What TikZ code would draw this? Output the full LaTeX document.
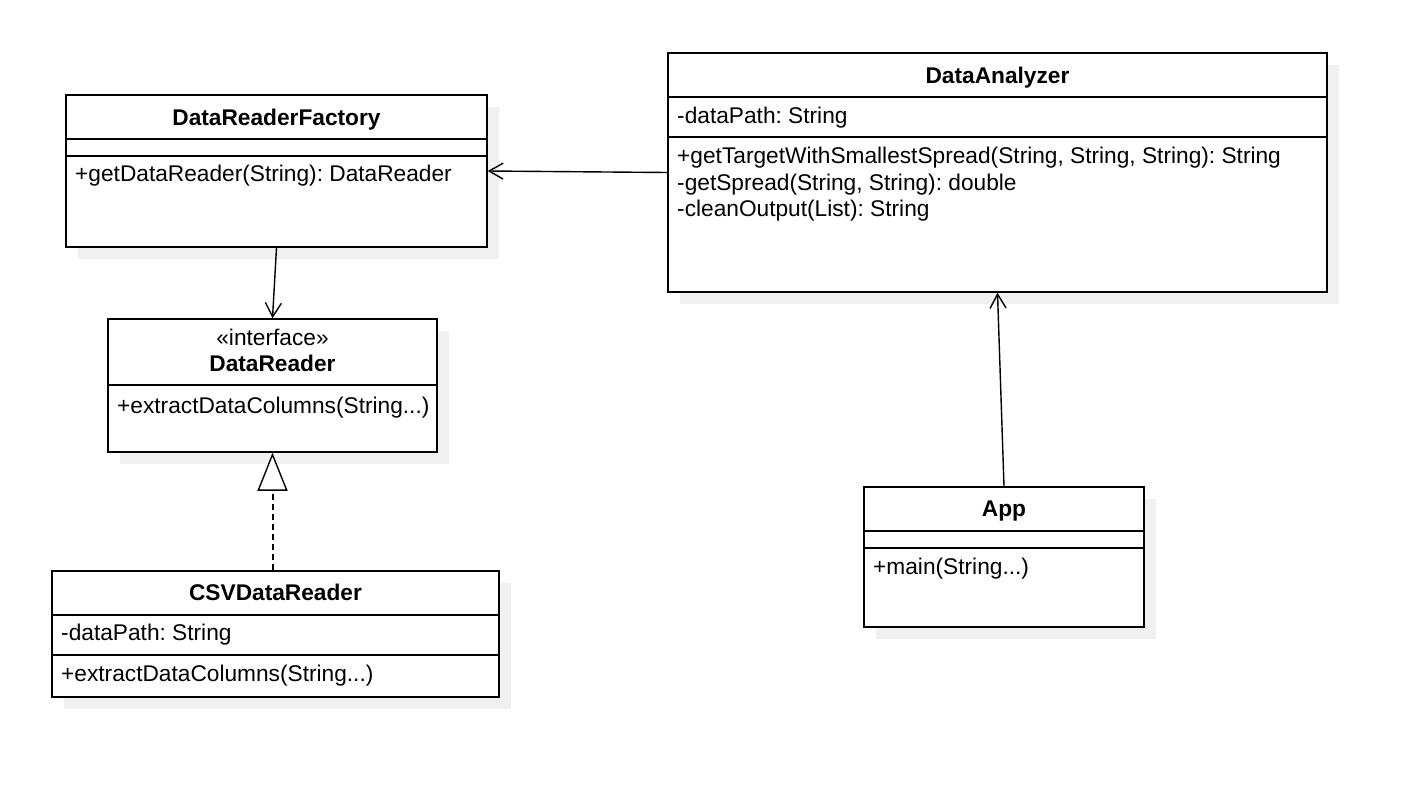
\documentclass[tikz,border=0pt]{standalone}
\usepackage{fontspec}
\setmainfont{Liberation Sans}
\usetikzlibrary{arrows.meta,shadows}
\frenchspacing
\newcommand\umlfont{\fontsize{22.7}{27}\selectfont}
\tikzset{
  classbox/.style={draw,fill=white,line width=1.5pt,inner sep=0pt,
    drop shadow={shadow xshift=12pt,shadow yshift=-12pt,fill=black!6,opacity=1}},
  divider/.style={line width=1.5pt},
  classname/.style={font=\umlfont\bfseries,anchor=base,inner sep=0pt},
  member/.style={anchor=base west,inner sep=0pt},
  assoc/.style={line width=1.4pt,-{Straight Barb[length=14pt,width=16pt,line width=1.4pt]}},
  realize/.style={line width=2pt,dash pattern=on 6pt off 4pt,
    -{Triangle[open,length=38pt,width=30pt,line width=1.4pt,fill=white]}}
}
\begin{document}
\begin{tikzpicture}[x=1pt,y=-1pt,line cap=butt,font=\umlfont]
\useasboundingbox[fill=white] (0,0) rectangle (1408,811);
% DataReaderFactory
\node[classbox,minimum width=421pt,minimum height=152pt] (factory) at (276.5,171) {};
\draw[divider] (66,139)--(487,139);
\draw[divider] (66,156)--(487,156);
\node[classname] (factoryname) at (276.5,125) {DataReaderFactory};
\node[member] (factorym1) at (75,181) {+getDataReader(String): DataReader};
% DataAnalyzer
\node[classbox,minimum width=659pt,minimum height=239pt] (analyzer) at (997.5,172.5) {};
\draw[divider] (668,97)--(1327,97);
\draw[divider] (668,137)--(1327,137);
\node[classname] (analyzername) at (997.5,83) {DataAnalyzer};
\node[member] (analyzera1) at (677,123) {-dataPath: String};
\node[member] (analyzerm1) at (677,163) {+getTargetWithSmallestSpread(String, String, String): String};
\node[member] (analyzerm2) at (677,190) {-getSpread(String, String): double};
\node[member] (analyzerm3) at (677,216) {-cleanOutput(List): String};
% DataReader
\node[classbox,minimum width=329pt,minimum height=133pt] (reader) at (272.5,385.5) {};
\draw[divider] (108,385)--(437,385);
\node[anchor=base,inner sep=0pt] (readerstereo) at (272.5,345) {«interface»};
\node[classname] (readername) at (272.5,371) {DataReader};
\node[member] (readerm1) at (117,413) {+extractDataColumns(String...)};
% CSVDataReader
\node[classbox,minimum width=447pt,minimum height=126pt] (csv) at (275.5,634) {};
\draw[divider] (52,615)--(499,615);
\draw[divider] (52,655)--(499,655);
\node[classname] (csvname) at (275.5,600) {CSVDataReader};
\node[member] (csva1) at (61,640) {-dataPath: String};
\node[member] (csvm1) at (61,681) {+extractDataColumns(String...)};
% App
\node[classbox,minimum width=280pt,minimum height=140pt] (app) at (1004,557) {};
\draw[divider] (864,531)--(1144,531);
\draw[divider] (864,548)--(1144,548);
\node[classname] (appname) at (1004,516) {App};
\node[member] (appm1) at (873,574) {+main(String...)};
% connectors
\draw[assoc] (analyzer.west)--(factory.east);
\draw[assoc] (factory.south)--(reader.north);
\draw[realize] (csv.north-|reader.south)--(reader.south);
\draw[assoc] (app.north)--(analyzer.south);
\end{tikzpicture}
\end{document}
